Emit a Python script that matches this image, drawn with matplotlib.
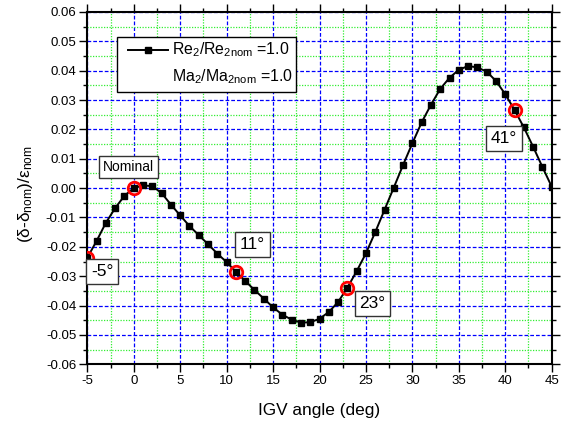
import matplotlib
matplotlib.use("Agg")
import matplotlib.pyplot as plt
from matplotlib.lines import Line2D
from matplotlib.patches import Rectangle
from matplotlib.ticker import MultipleLocator, FormatStrFormatter

plt.rcParams['font.family'] = ['Liberation Sans', 'DejaVu Sans']
plt.rcParams['mathtext.fontset'] = 'custom'
plt.rcParams['mathtext.rm'] = 'Liberation Sans'
plt.rcParams['mathtext.it'] = 'Liberation Sans:italic'
plt.rcParams['mathtext.default'] = 'regular'
plt.rcParams['axes.unicode_minus'] = False

# IGV angle (deg) and normalised deviation change
igv_angle = list(range(-5, 46))
deviation = [
    -0.0237, -0.0180, -0.0118, -0.0068, -0.0026, 0.0000, 0.0009, 0.0007,
    -0.0017, -0.0056, -0.0093, -0.0129, -0.0160, -0.0191, -0.0223, -0.0252,
    -0.0285, -0.0316, -0.0347, -0.0376, -0.0406, -0.0431, -0.0448, -0.0458,
    -0.0457, -0.0445, -0.0422, -0.0388, -0.0339, -0.0283, -0.0222, -0.0150,
    -0.0074, 0.0002, 0.0079, 0.0153, 0.0224, 0.0284, 0.0338, 0.0376,
    0.0403, 0.0416, 0.0411, 0.0397, 0.0365, 0.0320, 0.0266, 0.0207,
    0.0141, 0.0072, 0.0005,
]

# highlighted operating points and their annotations
marked_angles = [-5, 0, 11, 23, 41]
marked_labels = ['-5°', 'Nominal', '11°', '23°', '41°']
label_pos = [(-3.38, -0.0284), (-0.53, 0.0071), (12.78, -0.0192),
             (25.71, -0.0392), (39.83, 0.0168)]
label_size = [12.5, 10, 12.5, 12.5, 12.5]

fig = plt.figure(figsize=(5.71, 4.23), dpi=100)
ax = fig.add_axes([0.1529, 0.1388, 0.8133, 0.8329])

ax.set_xlim(-5, 45)
ax.set_ylim(-0.06, 0.06)
ax.xaxis.set_major_locator(MultipleLocator(5))
ax.xaxis.set_minor_locator(MultipleLocator(2.5))
ax.yaxis.set_major_locator(MultipleLocator(0.01))
ax.yaxis.set_minor_locator(MultipleLocator(0.005))
ax.yaxis.set_major_formatter(FormatStrFormatter('%.2f'))

ax.grid(which='major', color='#0000ff', linestyle=(0, (3, 1.6)), linewidth=0.9, zorder=0)
ax.grid(which='minor', color='#33ee33', linestyle=(0, (1, 1.2)), linewidth=0.9, zorder=0)
ax.set_axisbelow(True)

for sp in ax.spines.values():
    sp.set_linewidth(1.5)
ax.tick_params(which='both', direction='out', top=True, right=True, width=1.0)
ax.tick_params(which='major', length=5.5, labelsize=9.5)
ax.tick_params(axis='x', which='major', pad=2.5)
ax.tick_params(axis='y', which='major', pad=2.5)
ax.tick_params(which='minor', length=3)

ax.plot(igv_angle, deviation, color='black', linewidth=1.4, marker='s',
        markersize=4.5, zorder=3)

mx = [igv_angle.index(a) for a in marked_angles]
ax.plot([igv_angle[i] for i in mx], [deviation[i] for i in mx], linestyle='none',
        marker='o', markersize=9, markerfacecolor='none', markeredgecolor='red',
        markeredgewidth=2.0, zorder=4)

for txt, (lx, ly), fs in zip(marked_labels, label_pos, label_size):
    ax.text(lx, ly, txt, fontsize=fs, ha='center', va='center', zorder=6,
            bbox=dict(boxstyle='square,pad=0.28', facecolor='white',
                      edgecolor='#333333', linewidth=1.0))

# legend box
ax.add_patch(Rectangle((0.0646, 0.7738), 0.3842, 0.1562, transform=ax.transAxes,
                       facecolor='white', edgecolor='black', linewidth=1.0, zorder=7))
ax.add_line(Line2D([0.0876, 0.1738], [0.8928, 0.8928], transform=ax.transAxes,
                   color='black', linewidth=1.4, zorder=8))
ax.add_line(Line2D([0.1309], [0.8928], transform=ax.transAxes, color='black',
                   marker='s', markersize=4.5, zorder=8))
ax.text(0.1817, 0.8928, 'Re$_2$/Re$_{2nom}$ =1.0', transform=ax.transAxes,
        fontsize=11.4, ha='left', va='center', zorder=8)
ax.text(0.1817, 0.8164, 'Ma$_2$/Ma$_{2nom}$ =1.0', transform=ax.transAxes,
        fontsize=11.4, ha='left', va='center', zorder=8)

ax.text(0.5, -0.13, 'IGV angle (deg)', transform=ax.transAxes, fontsize=12.4,
        ha='center', va='center')
ax.text(-0.134, 0.483, '(δ-δ$_{nom}$)/ε$_{nom}$', transform=ax.transAxes,
        fontsize=12.4, ha='center', va='center', rotation=90)

fig.savefig('out.png', dpi=100)
